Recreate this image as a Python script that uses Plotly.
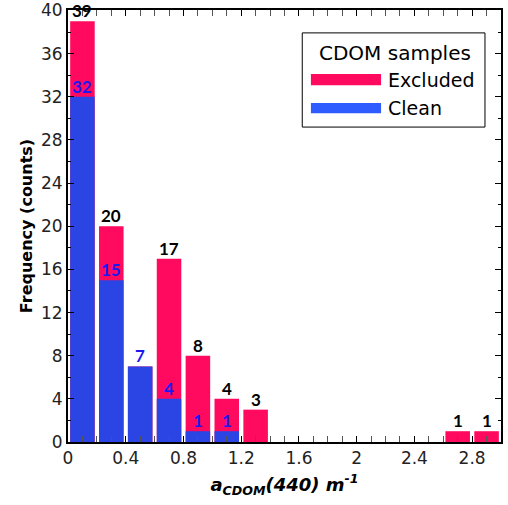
import plotly.graph_objects as go

bin_centers = [0.1, 0.3, 0.5, 0.7, 0.9, 1.1, 1.3, 1.5, 1.7, 1.9, 2.1, 2.3, 2.5, 2.7, 2.9]
total_counts = [39, 20, 7, 17, 8, 4, 3, 0, 0, 0, 0, 0, 0, 1, 1]
clean_counts = [32, 15, 7, 4, 1, 1, 0, 0, 0, 0, 0, 0, 0, 0, 0]
x_ticks = [0, 0.4, 0.8, 1.2, 1.6, 2, 2.4, 2.8]
x_tick_labels = ["0", "0.4", "0.8", "1.2", "1.6", "2", "2.4", "2.8"]
y_ticks = [0, 4, 8, 12, 16, 20, 24, 28, 32, 36, 40]

PINK = "#FF0A5E"
BLUE = "#2B44E4"
LEG_BLUE = "#2E5CFF"
FONT = "'DejaVu Sans', sans-serif"
LFONT = "Lato, sans-serif"

fig = go.Figure()
fig.add_trace(go.Bar(x=bin_centers, y=total_counts, width=0.17, marker=dict(color=PINK, line=dict(width=0)),
                     name="Excluded", showlegend=False, hoverinfo="skip", cliponaxis=False))
fig.add_trace(go.Bar(x=bin_centers, y=clean_counts, width=0.17, marker=dict(color=BLUE, line=dict(width=0)),
                     name="Clean", showlegend=False, hoverinfo="skip", cliponaxis=False))

annotations = []
for xc, t, c in zip(bin_centers, total_counts, clean_counts):
    if t > c:
        annotations.append(dict(x=xc, y=t, xref="x", yref="y", text=f"<b>{t}</b>", showarrow=False,
                                yanchor="bottom", font=dict(family=LFONT, size=17, color="black"), yshift=-2))
    if c > 0:
        annotations.append(dict(x=xc, y=c, xref="x", yref="y", text=f"<b>{c}</b>", showarrow=False,
                                yanchor="bottom", font=dict(family=LFONT, size=17, color="#1A1AF0"), yshift=-2))

# manual legend
annotations.append(dict(x=0.755, y=0.9, xref="paper", yref="paper", text="CDOM samples", showarrow=False,
                        xanchor="center", yanchor="middle", font=dict(family=FONT, size=20, color="black")))
annotations.append(dict(x=0.735, y=0.838, xref="paper", yref="paper", text="Excluded", showarrow=False,
                        xanchor="left", yanchor="middle", font=dict(family=FONT, size=19, color="black")))
annotations.append(dict(x=0.735, y=0.773, xref="paper", yref="paper", text="Clean", showarrow=False,
                        xanchor="left", yanchor="middle", font=dict(family=FONT, size=19, color="black")))

shapes = [
    dict(type="rect", xref="paper", yref="paper", x0=0.541, x1=0.963, y0=0.729, y1=0.947,
         line=dict(color="black", width=1), fillcolor="white", layer="above"),
    dict(type="rect", xref="paper", yref="paper", x0=0.561, x1=0.723, y0=0.826, y1=0.852,
         line=dict(width=0), fillcolor=PINK, layer="above"),
    dict(type="rect", xref="paper", yref="paper", x0=0.561, x1=0.723, y0=0.761, y1=0.785,
         line=dict(width=0), fillcolor=LEG_BLUE, layer="above"),
]

fig.update_layout(
    width=508, height=505,
    margin=dict(l=68, r=7, t=10, b=63),
    paper_bgcolor="white", plot_bgcolor="white",
    barmode="overlay",
    font=dict(family=FONT, size=17, color="black"),
    annotations=annotations, shapes=shapes,
    showlegend=False,
)
fig.update_xaxes(range=[0, 3.0], tickvals=x_ticks, ticktext=x_tick_labels, ticks="inside", ticklen=6,
                 tickcolor="black", showline=True, linecolor="black", linewidth=2, mirror="ticks",
                 showgrid=False, zeroline=False, automargin=False,
                 minor=dict(dtick=0.1, tick0=0, ticks="inside", ticklen=6, tickcolor="#555", showgrid=False),
                 tickfont=dict(size=17, family=FONT, color="#222"),
                 title=dict(text="<b><i>a<sub>CDOM</sub>(440) m<sup>-1</sup></i></b>", font=dict(size=18, family=FONT), standoff=11))
fig.update_yaxes(range=[0, 40.05], tickvals=y_ticks, ticks="inside", ticklen=6, tickcolor="black",
                 showline=True, linecolor="black", linewidth=2, mirror="ticks", showgrid=False, zeroline=False,
                 automargin=False,
                 minor=dict(dtick=2, tick0=0, ticks="inside", ticklen=3, tickcolor="black", showgrid=False),
                 tickfont=dict(size=17, family=FONT, color="#222"),
                 title=dict(text="<b>Frequency (counts)</b>", font=dict(size=16, family=FONT), standoff=4))

fig.write_html("out.html", config={"displayModeBar": False},
               post_script="document.body.style.margin='0';document.body.style.overflow='hidden';")
